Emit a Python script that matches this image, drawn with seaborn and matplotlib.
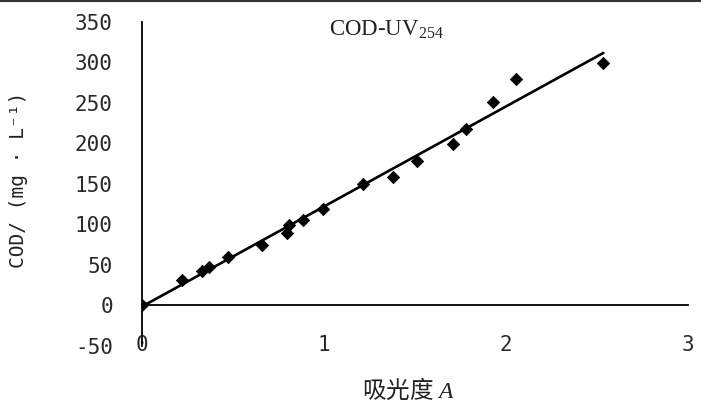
import numpy as np
import pandas as pd
import matplotlib
matplotlib.use("Agg")
import matplotlib.pyplot as plt
from matplotlib.lines import Line2D
import seaborn as sns

# ---- data ----
absorbance = [0.0, 0.22, 0.33, 0.37, 0.47, 0.66, 0.795, 0.81, 0.885, 0.996,
              1.216, 1.377, 1.513, 1.71, 1.78, 1.927, 2.055, 2.535]
cod = [0, 31, 43, 47, 60, 75, 90, 99, 105, 119,
       150, 159, 179, 199, 218, 251, 280, 299]
x_ticks = [0, 1, 2, 3]
y_ticks = [-50, 0, 50, 100, 150, 200, 250, 300, 350]
title_text = "COD-UV$_{\\mathrm{254}}$"
x_label = "吸光度 $A$"
y_label = "COD/ (mg · L⁻¹)"

df = pd.DataFrame({"A": absorbance, "COD": cod})

sns.set_theme(style="white")
plt.rcParams["mathtext.fontset"] = "custom"
plt.rcParams["mathtext.rm"] = "Liberation Serif"
plt.rcParams["mathtext.it"] = "Liberation Serif:italic"

fig = plt.figure(figsize=(7.01, 4.05), dpi=100)
ax = fig.add_axes([0.2026, 0.1457, 0.7789, 0.8])

sns.regplot(data=df, x="A", y="COD", ax=ax, ci=None, truncate=True,
            marker="D", color="black",
            scatter_kws={"s": 40, "edgecolor": "black", "linewidths": 0.5,
                         "alpha": 1.0},
            line_kws={"linewidth": 1.9, "color": "black"})

ax.set_xlim(0, 3)
ax.set_ylim(-50, 350)
ax.set_xticks(x_ticks)
ax.set_yticks(y_ticks)
ax.set_xticklabels([str(t) for t in x_ticks])
ax.set_yticklabels([str(t) for t in y_ticks])

for s in ["top", "right"]:
    ax.spines[s].set_visible(False)
ax.spines["bottom"].set_position(("data", 0))
for s in ["left", "bottom"]:
    ax.spines[s].set_color("black")
    ax.spines[s].set_linewidth(1.3)

mono = "DejaVu Sans Mono"
ax.tick_params(axis="y", direction="in", length=6, width=1.3, color="black",
               pad=21, labelsize=15, labelcolor="#2a2a2a")
ax.tick_params(axis="x", direction="in", length=6, width=1.3, color="black",
               pad=21, labelsize=15, labelcolor="#2a2a2a")
for lab in ax.get_xticklabels() + ax.get_yticklabels():
    lab.set_family(mono)

ax.set_xlabel("")
ax.set_ylabel("")
ax.grid(False)

fig.text(0.582, 0.037, x_label, ha="center", va="center", fontsize=17,
         family=["Noto Sans CJK SC", "DejaVu Sans"], color="#222222")
fig.text(0.027, 0.555, y_label, ha="center", va="center", rotation=90,
         fontsize=14, family=mono, color="#222222")
ax.text(0.447, 0.975, title_text, transform=ax.transAxes, ha="center",
        va="center", fontsize=16.5, family="Liberation Serif", color="#222222")

fig.add_artist(Line2D([0, 1], [0.997, 0.997], transform=fig.transFigure,
                      color="#333333", linewidth=1.5))

fig.savefig("out.png", dpi=100, facecolor="white")
